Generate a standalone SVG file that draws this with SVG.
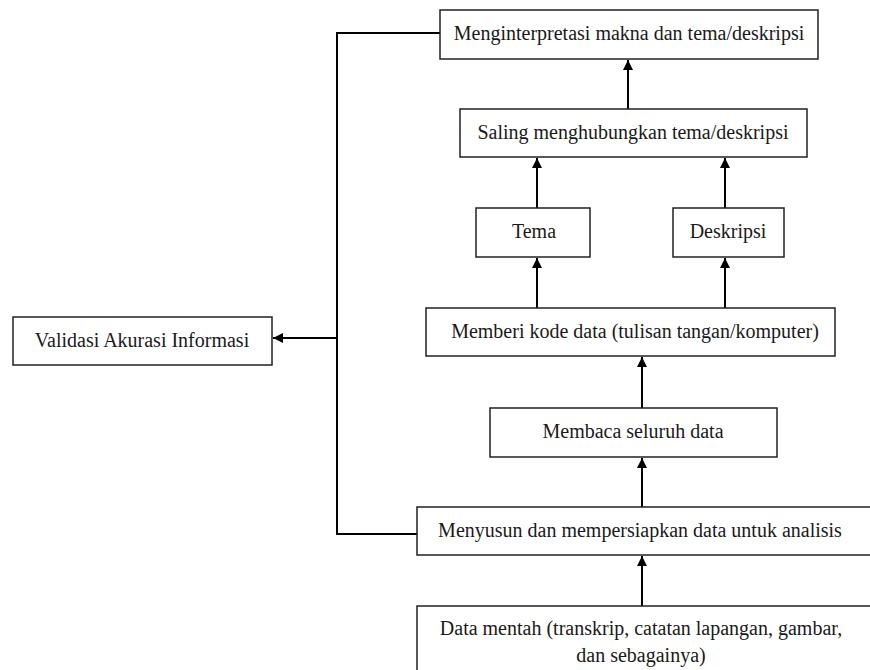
<svg xmlns="http://www.w3.org/2000/svg" width="870" height="670" viewBox="0 0 870 670">
<defs>
<marker id="ah" viewBox="0 0 10 10" refX="10" refY="5" markerWidth="10" markerHeight="10" markerUnits="userSpaceOnUse" orient="auto">
<path d="M0,0 L10,5 L0,10 z" fill="#000"/>
</marker>
</defs>
<style>
.box{fill:#fff;stroke:#222;stroke-width:1.5}
.t{font-family:"Liberation Serif","Times New Roman",serif;font-size:20px;fill:#1a1a1a;text-anchor:middle;dominant-baseline:central}
.c{fill:none;stroke:#000;stroke-width:2}
</style>
<rect width="870" height="670" fill="#fff"/>
<g id="connectors">
<path class="c" d="M440,33 H337 V534 H417"/>
<path class="c" d="M337,338 H273" marker-end="url(#ah)"/>
<path class="c" d="M628,109 V60" marker-end="url(#ah)"/>
<path class="c" d="M537,208 V158" marker-end="url(#ah)"/>
<path class="c" d="M725,208 V158" marker-end="url(#ah)"/>
<path class="c" d="M537,308 V258" marker-end="url(#ah)"/>
<path class="c" d="M725,308 V258" marker-end="url(#ah)"/>
<path class="c" d="M642,408 V357" marker-end="url(#ah)"/>
<path class="c" d="M642,507 V458" marker-end="url(#ah)"/>
<path class="c" d="M642,606 V556" marker-end="url(#ah)"/>
</g>
<g id="n-interpretasi"><rect class="box" x="440" y="10" width="378" height="49"/><text class="t" x="629" y="33">Menginterpretasi makna dan tema/deskripsi</text></g>
<g id="n-saling"><rect class="box" x="460" y="109" width="347" height="48"/><text class="t" x="633" y="132">Saling menghubungkan tema/deskripsi</text></g>
<g id="n-tema"><rect class="box" x="476" y="208" width="114" height="49"/><text class="t" x="534" y="231">Tema</text></g>
<g id="n-deskripsi"><rect class="box" x="673" y="208" width="111" height="49"/><text class="t" x="728" y="231">Deskripsi</text></g>
<g id="n-memberi"><rect class="box" x="426" y="308" width="409" height="48"/><text class="t" x="635" y="331">Memberi kode data (tulisan tangan/komputer)</text></g>
<g id="n-validasi"><rect class="box" x="13" y="317" width="259" height="48"/><text class="t" x="142" y="340">Validasi Akurasi Informasi</text></g>
<g id="n-membaca"><rect class="box" x="490" y="408" width="287" height="49"/><text class="t" x="633" y="431">Membaca seluruh data</text></g>
<g id="n-menyusun"><rect class="box" x="417" y="507" width="470" height="48"/><text class="t" x="640" y="530">Menyusun dan mempersiapkan data untuk analisis</text></g>
<g id="n-data"><rect class="box" x="417" y="606" width="470" height="80"/><text class="t" x="641" y="628">Data mentah (transkrip, catatan lapangan, gambar,</text><text class="t" x="641" y="655">dan sebagainya)</text></g>
</svg>
